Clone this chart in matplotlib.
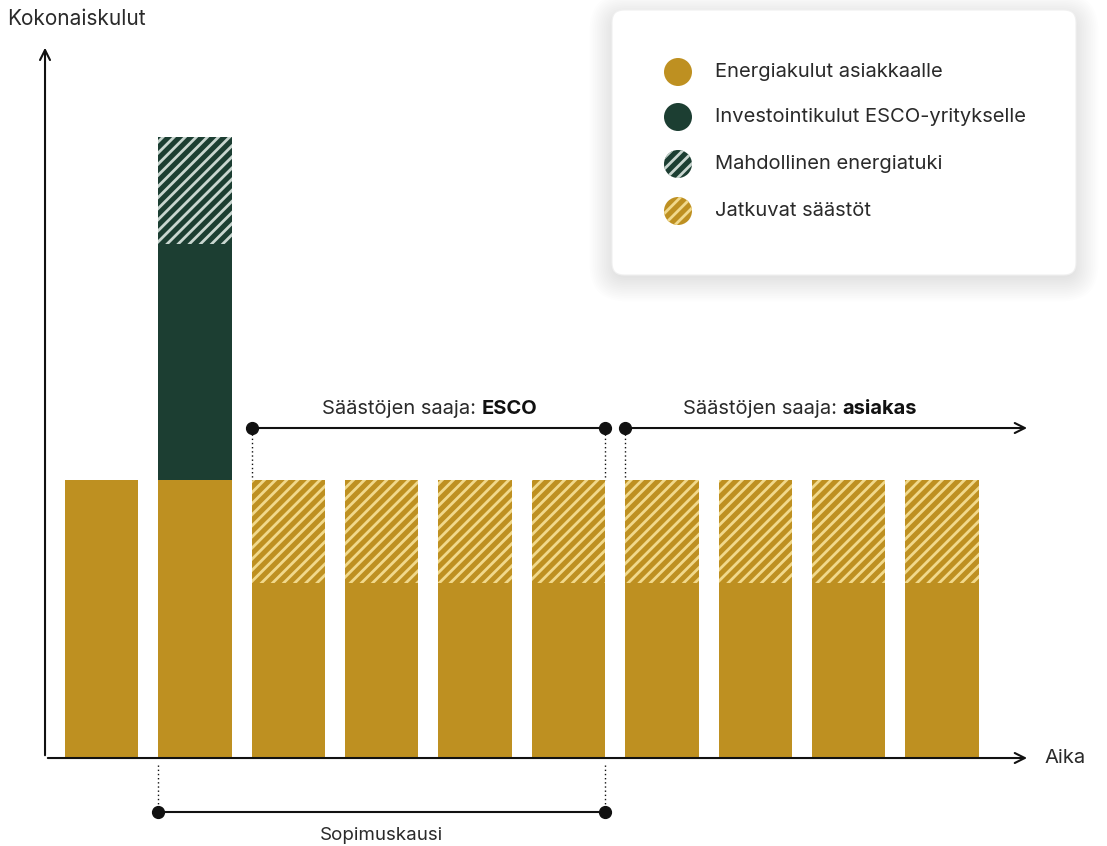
import matplotlib.pyplot as plt
import numpy as np
from matplotlib.patches import FancyBboxPatch, Circle

plt.rcParams['font.family'] = ['Inter', 'DejaVu Sans']
plt.rcParams['hatch.linewidth'] = 2.0

# data (arbitrary cost units)
years = np.arange(10)
energy = [100, 100, 63, 63, 63, 63, 63, 63, 63, 63]
savings = [0, 0, 37, 37, 37, 37, 37, 37, 37, 37]
invest = [0, 85, 0, 0, 0, 0, 0, 0, 0, 0]
subsidy = [0, 38.5, 0, 0, 0, 0, 0, 0, 0, 0]

legend_labels = ['Energiakulut asiakkaalle', 'Investointikulut ESCO-yritykselle',
                 'Mahdollinen energiatuki', 'Jatkuvat säästöt']

gold = '#be9021'
gold_hatch = '#f1d98c'
green = '#1c3e32'
green_hatch = '#c9d6d0'
ink = '#2a2a2a'
fs = 14.5

fig = plt.figure(figsize=(11.07, 8.46), dpi=100)
ax = fig.add_axes([0, 0, 1, 1])
ax.set_xlim(-1.087, 10.766)
ax.set_ylim(-31.65, 272.66)
ax.axis('off')

w = 0.787
energy = np.array(energy)
invest = np.array(invest)
ax.bar(years, energy, width=w, color=gold, linewidth=0)
ax.bar(years, savings, bottom=energy, width=w, color=gold, edgecolor=gold_hatch,
       hatch='///', linewidth=0)
ax.bar(years, invest, bottom=energy, width=w, color=green, linewidth=0)
ax.bar(years, subsidy, bottom=energy + invest, width=w, color=green,
       edgecolor=green_hatch, hatch='///', linewidth=0)

# axes with arrows
x0 = -0.605
ax.annotate('', xy=(x0, 256.5), xytext=(x0, 0),
            arrowprops=dict(arrowstyle='->', lw=1.5, color='#111111', mutation_scale=18))
ax.annotate('', xy=(9.94, 0), xytext=(x0, 0),
            arrowprops=dict(arrowstyle='->', lw=1.5, color='#111111', mutation_scale=18))
ax.text(x0 - 0.41, 266, 'Kokonaiskulut', fontsize=15, color=ink, va='center', ha='left')
ax.text(10.1, 0, 'Aika', fontsize=fs, color=ink, va='center', ha='left')

# brackets
yb = 118.7
esco_l, esco_r = 2 - w / 2, 5 + w / 2
cust_l = 6 - w / 2
ax.plot([esco_l, esco_r], [yb, yb], color='#111111', lw=1.5)
ax.annotate('', xy=(9.94, yb), xytext=(cust_l, yb),
            arrowprops=dict(arrowstyle='->', lw=1.5, color='#111111', mutation_scale=18))
ax.plot([esco_l, esco_r, cust_l], [yb] * 3, 'o', color='#111111', ms=8.5)
for xv in [esco_l, esco_r, cust_l]:
    ax.plot([xv, xv], [yb - 2, 100], color='#111111', lw=1, ls=(0, (1, 2)))

t1 = ax.text(2.36, 123.7, 'Säästöjen saaja: ', fontsize=fs, color=ink, va='baseline')
ax.annotate('ESCO', xy=(1, 0), xycoords=t1, va='bottom', fontsize=fs,
            color='#111111', weight='bold')
t2 = ax.text(6.226, 123.7, 'Säästöjen saaja: ', fontsize=fs, color=ink, va='baseline')
ax.annotate('asiakas', xy=(1, 0), xycoords=t2, va='bottom', fontsize=fs,
            color='#111111', weight='bold')

ys = -19.4
sop_l, sop_r = 1 - w / 2, 5 + w / 2
ax.plot([sop_l, sop_r], [ys, ys], color='#111111', lw=1.5)
ax.plot([sop_l, sop_r], [ys, ys], 'o', color='#111111', ms=8.5)
for xv in [sop_l, sop_r]:
    ax.plot([xv, xv], [-2.5, ys], color='#111111', lw=1, ls=(0, (1, 2)))
ax.text((sop_l + sop_r) / 2, -27.9, 'Sopimuskausi', fontsize=13.5, color=ink,
        ha='center', va='center')

# legend card
lax = fig.add_axes([612 / 1107, 1 - 275 / 846, 464 / 1107, 265 / 846])
lax.set_xlim(0, 464)
lax.set_ylim(265, 0)
lax.axis('off')
for i in range(14):
    g = 1 + i * 1.8
    lax.add_patch(FancyBboxPatch((-g + 2, -g + 8), 464 + 2 * g - 4, 265 + 2 * g - 6,
                                 boxstyle='round,pad=0,rounding_size=%f' % (12 + g),
                                 fc='black', ec='none', alpha=0.008, clip_on=False))
lax.add_patch(FancyBboxPatch((0, 0), 464, 265, boxstyle='round,pad=0,rounding_size=12',
                             fc='white', ec='#f0f0f0', lw=0.8, clip_on=False))
styles = [(gold, None, gold), (green, None, green),
          (green, '///', green_hatch), (gold, '///', gold_hatch)]
cy = [62, 107, 154, 201]
for (fc, hatch, ec), yy, lab in zip(styles, cy, legend_labels):
    lax.add_patch(Circle((66, yy), 14, fc=fc, ec=ec, hatch=hatch, lw=0))
    lax.text(103, yy, lab, fontsize=fs, color=ink, va='center', ha='left')

fig.savefig('out.png', dpi=100, facecolor='white')
